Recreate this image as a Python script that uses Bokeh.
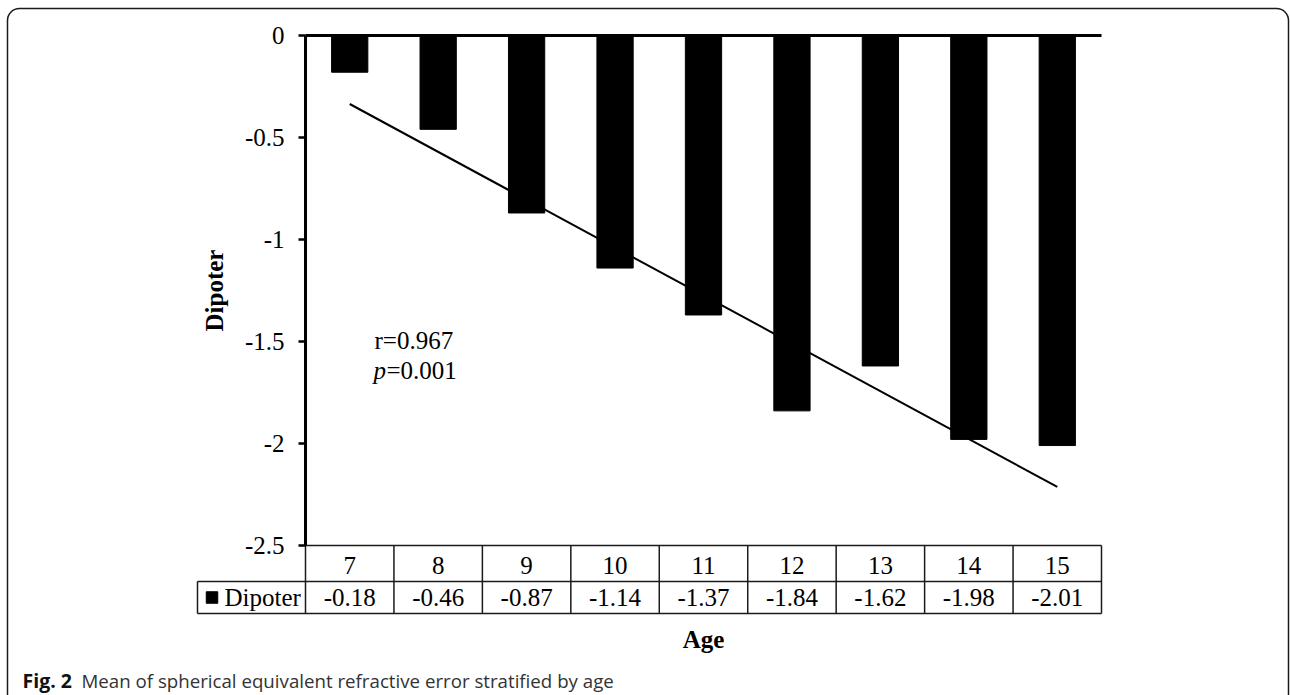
import numpy as np
from bokeh.plotting import figure
from bokeh.models import Range1d, LinearAxis, FixedTicker, BoxAnnotation
from bokeh.core.properties import value
from bokeh.embed import file_html
from bokeh.resources import INLINE

# ---- data ----
ages = [7, 8, 9, 10, 11, 12, 13, 14, 15]
dipoter = [-0.18, -0.46, -0.87, -1.14, -1.37, -1.84, -1.62, -1.98, -2.01]
y_ticks = [0, -0.5, -1, -1.5, -2, -2.5]
y_tick_labels = ["0", "-0.5", "-1", "-1.5", "-2", "-2.5"]
age_labels = [str(a) for a in ages]
value_labels = ["%.2f" % v for v in dipoter]
series_name = "Dipoter"
r_text = "r=0.967"
p_value_text = "=0.001"
caption_bold = "Fig. 2"
caption_text = "Mean of spherical equivalent refractive error stratified by age"

# ---- layout helpers (page pixel -> data) ----
W, H = 1290, 695
PX_X = 796 / 9.0      # pixels per category
PX_Y = 510 / 2.5      # pixels per unit


def dx(px):
    return 6.5 + (px - 305) / PX_X


def dy(py):
    return -(py - 35) / PX_Y


SERIF = value("Liberation Serif")
FS = value("25px")

p = figure(width=W, height=H, output_backend="svg", toolbar_location=None,
           x_range=Range1d(dx(0), dx(W)), y_range=Range1d(dy(H), dy(0)),
           x_axis_location=None, y_axis_location=None, min_border=0,
           outline_line_color=None, background_fill_color="white",
           border_fill_color="white")
for g in p.grid:
    g.visible = False

# y axis at the left edge of the first category
yaxis = LinearAxis(fixed_location=6.5, bounds=(-2.5, 0),
                   ticker=FixedTicker(ticks=y_ticks),
                   major_label_overrides=dict(zip(y_ticks, y_tick_labels)),
                   axis_label="Dipoter")
yaxis.axis_line_width = 3
yaxis.axis_line_color = "black"
yaxis.major_tick_line_width = 2.5
yaxis.major_tick_out = 7
yaxis.major_tick_in = 0
yaxis.minor_tick_line_color = None
yaxis.major_label_text_font = "Liberation Serif"
yaxis.major_label_text_font_size = "25px"
yaxis.major_label_text_color = "black"
yaxis.major_label_standoff = 14
yaxis.axis_label_text_font = "Liberation Serif"
yaxis.axis_label_text_font_size = "25px"
yaxis.axis_label_text_font_style = "bold"
yaxis.axis_label_text_color = "black"
yaxis.axis_label_standoff = 14
p.add_layout(yaxis, "left")

# category axis drawn as the first row of the data table
xaxis = LinearAxis(fixed_location=-2.5, bounds=(6.5, 15.5),
                   ticker=FixedTicker(ticks=ages),
                   major_label_overrides=dict(zip(ages, age_labels)),
                   axis_label="Age")
xaxis.axis_line_color = None
xaxis.major_tick_line_color = None
xaxis.minor_tick_line_color = None
xaxis.major_label_text_font = "Liberation Serif"
xaxis.major_label_text_font_size = "25px"
xaxis.major_label_text_color = "black"
xaxis.major_label_standoff = 5
xaxis.axis_label_text_font = "Liberation Serif"
xaxis.axis_label_text_font_size = "25px"
xaxis.axis_label_text_font_style = "bold"
xaxis.axis_label_text_color = "black"
xaxis.axis_label_standoff = 49
p.add_layout(xaxis, "below")

# bars hanging from zero
p.vbar(x=ages, top=0, bottom=dipoter, width=0.41,
       fill_color="black", line_color="black")

# zero (category axis) line
p.segment(x0=[6.5], y0=[0], x1=[ages[-1] + 0.5], y1=[0],
          line_color="black", line_width=3)

# linear trend line
slope, intercept = np.polyfit(ages, dipoter, 1)
tx = [ages[0], ages[-1]]
p.line(x=tx, y=[slope * t + intercept for t in tx],
       line_color="black", line_width=2)

# data table grid
row1_bot = dy(581)
row2_bot = dy(613)
legend_left = dx(197)
edges = [a - 0.5 for a in ages] + [ages[-1] + 0.5]
hx0 = [6.5, legend_left, legend_left]
hx1 = [edges[-1]] * 3
hy = [-2.5, row1_bot, row2_bot]
vx = edges + [legend_left]
vy0 = [-2.5] * len(edges) + [row1_bot]
p.segment(x0=hx0 + vx, y0=hy + vy0, x1=hx1 + vx,
          y1=hy + [row2_bot] * len(vx),
          line_color="#1a1a1a", line_width=1.5)

row2_mid = (row1_bot + row2_bot) / 2
p.text(x=ages, y=[row2_mid] * len(ages), text=value_labels,
       text_font=SERIF, text_font_size=FS, text_align="center",
       text_baseline="middle", text_color="black")

# legend key in the table
p.scatter(x=[dx(211.5)], y=[row2_mid], marker="square", size=11.5,
          fill_color="black", line_color="black")
p.text(x=[dx(224)], y=[row2_mid], text=[series_name],
       text_font=SERIF, text_font_size=FS, text_align="left",
       text_baseline="middle", text_color="black")

# correlation annotation
p.text(x=[dx(374)], y=[dy(340)], text=[r_text], text_font=SERIF,
       text_font_size=FS, text_align="left", text_baseline="middle",
       text_color="black")
p.text(x=[dx(373)], y=[dy(370)], text=["p"], text_font=SERIF,
       text_font_size=FS, text_font_style=value("italic"),
       text_align="left", text_baseline="middle", text_color="black")
p.text(x=[dx(386)], y=[dy(370)], text=[p_value_text], text_font=SERIF,
       text_font_size=FS, text_align="left", text_baseline="middle",
       text_color="black")

# figure caption
p.text(x=[dx(22)], y=[dy(680)], text=[caption_bold],
       text_font=value("Open Sans"), text_font_size=value("19.5px"),
       text_font_style=value("bold"), text_align="left",
       text_baseline="middle", text_color="#111111")
p.text(x=[dx(81)], y=[dy(680)], text=[caption_text],
       text_font=value("Open Sans"), text_font_size=value("18.7px"),
       text_align="left", text_baseline="middle", text_color="#333333")

# rounded outer frame
p.add_layout(BoxAnnotation(left=dx(7), right=dx(1288), top=dy(8),
                           bottom=dy(740), fill_color=None,
                           line_color="#1a1a1a", line_alpha=1.0,
                           line_width=1.5, border_radius=12))

open("out.html", "w").write(file_html(p, INLINE))
